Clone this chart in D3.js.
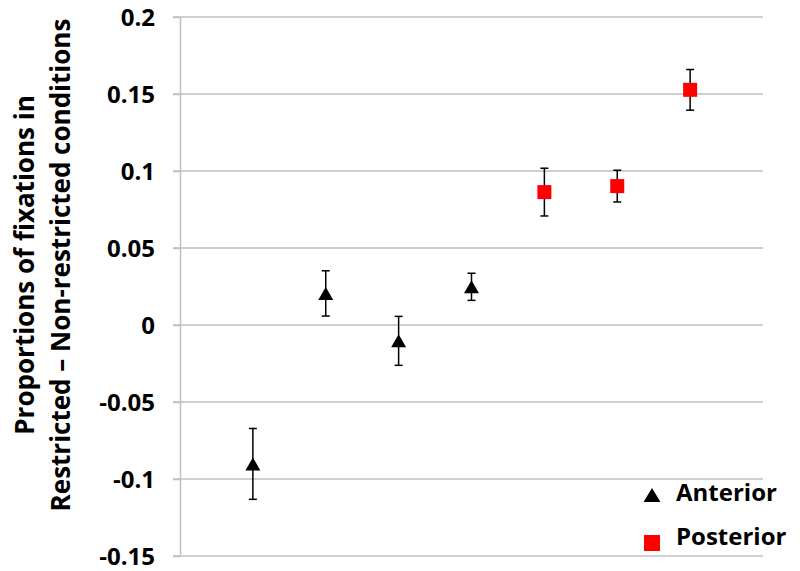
<!DOCTYPE html>
<html>
<head>
<meta charset="utf-8">
<style>
	body { margin: 0; background: #fff; }
	text { font-family: "Open Sans", sans-serif; font-weight: bold; fill: #000; }
	.grid line { stroke: #bfbfbf; stroke-width: 1.5; }
	.axis path, .axis line { stroke: #bfbfbf; stroke-width: 1.5; }
</style>
</head>
<body>
<svg width="800" height="571"></svg>
<script src="https://d3js.org/d3.v7.min.js"></script>
<script>

// data
var positions = [1, 2, 3, 4, 5, 6, 7];
var anteriorMean = [-0.0902, 0.0205, -0.0103, 0.0248];
var anteriorErr = [0.023, 0.0147, 0.0159, 0.0088];
var posteriorMean = [0.0863, 0.0902, 0.1527];
var posteriorErr = [0.0155, 0.0103, 0.0132];
var yTicks = [-0.15, -0.1, -0.05, 0, 0.05, 0.1, 0.15, 0.2];
var yTickLabels = ["-0.15", "-0.1", "-0.05", "0", "0.05", "0.1", "0.15", "0.2"];
var seriesNames = ["Anterior", "Posterior"];

var width = 800;
var height = 571;
var margin = {top: 17, right: 37, bottom: 15, left: 180};
var innerWidth = width - margin.left - margin.right;
var innerHeight = height - margin.top - margin.bottom;

var svg = d3.select("svg");
var g = svg.append("g")
	.attr("transform", "translate(" + margin.left + "," + margin.top + ")");

var x = d3.scaleLinear().domain([0, 8]).range([0, innerWidth]);
var y = d3.scaleLinear().domain([-0.15, 0.2]).range([innerHeight, 0]);

// gridlines
g.append("g").attr("class", "grid")
	.selectAll("line")
	.data(yTicks)
	.join("line")
	.attr("x1", -7)
	.attr("x2", innerWidth)
	.attr("y1", function(d){ return y(d); })
	.attr("y2", function(d){ return y(d); });

// y axis
var yAxis = g.append("g").attr("class", "axis")
	.call(d3.axisLeft(y)
		.tickValues(yTicks)
		.tickFormat(function(d, i){ return yTickLabels[i]; })
		.tickSizeInner(7)
		.tickSizeOuter(0)
		.tickPadding(18));
yAxis.selectAll("text")
	.style("font-size", "24px")
	.attr("dy", "0.36em");

// axis title (two lines, rotated)
var title = svg.append("text")
	.attr("transform", "translate(52,265) rotate(-90)")
	.attr("text-anchor", "middle")
	.style("font-size", "26px");
title.append("tspan").attr("x", 0).attr("dy", -18).text("Proportions of fixations in");
title.append("tspan").attr("x", 0).attr("dy", 36).text("Restricted \u2013 Non-restricted conditions");

var anterior = anteriorMean.map(function(m, i){
	return {x: positions[i], m: m, e: anteriorErr[i]};
});
var posterior = posteriorMean.map(function(m, i){
	return {x: positions[anteriorMean.length + i], m: m, e: posteriorErr[i]};
});
var all = anterior.concat(posterior);

// error bars
var eb = g.append("g").selectAll("g")
	.data(all)
	.join("g")
	.attr("stroke", "#000")
	.attr("stroke-width", 1.5);
eb.append("line")
	.attr("x1", function(d){ return x(d.x); })
	.attr("x2", function(d){ return x(d.x); })
	.attr("y1", function(d){ return y(d.m + d.e); })
	.attr("y2", function(d){ return y(d.m - d.e); });
eb.append("line")
	.attr("x1", function(d){ return x(d.x) - 4; })
	.attr("x2", function(d){ return x(d.x) + 4; })
	.attr("y1", function(d){ return y(d.m + d.e); })
	.attr("y2", function(d){ return y(d.m + d.e); });
eb.append("line")
	.attr("x1", function(d){ return x(d.x) - 4; })
	.attr("x2", function(d){ return x(d.x) + 4; })
	.attr("y1", function(d){ return y(d.m - d.e); })
	.attr("y2", function(d){ return y(d.m - d.e); });

function triangle(w, h) {
	return "M0," + (-h / 2) + "L" + (w / 2) + "," + (h / 2) + "L" + (-w / 2) + "," + (h / 2) + "Z";
}

// anterior markers
g.selectAll(".tri")
	.data(anterior)
	.join("path")
	.attr("class", "tri")
	.attr("d", triangle(15, 13))
	.attr("fill", "#000")
	.attr("transform", function(d){ return "translate(" + x(d.x) + "," + y(d.m) + ")"; });

// posterior markers
g.selectAll(".sq")
	.data(posterior)
	.join("rect")
	.attr("class", "sq")
	.attr("x", function(d){ return x(d.x) - 7; })
	.attr("y", function(d){ return y(d.m) - 7; })
	.attr("width", 14)
	.attr("height", 14)
	.attr("fill", "#ff0000");

// legend
var legend = svg.append("g").attr("transform", "translate(652,0)");
legend.append("path")
	.attr("d", triangle(17, 14))
	.attr("fill", "#000")
	.attr("transform", "translate(0,495)");
legend.append("text")
	.attr("x", 24).attr("y", 501)
	.style("font-size", "24px")
	.text(seriesNames[0]);
legend.append("rect")
	.attr("x", -8).attr("y", 535)
	.attr("width", 16).attr("height", 16)
	.attr("fill", "#ff0000");
legend.append("text")
	.attr("x", 24).attr("y", 545)
	.style("font-size", "24px")
	.text(seriesNames[1]);

</script>
</body>
</html>
